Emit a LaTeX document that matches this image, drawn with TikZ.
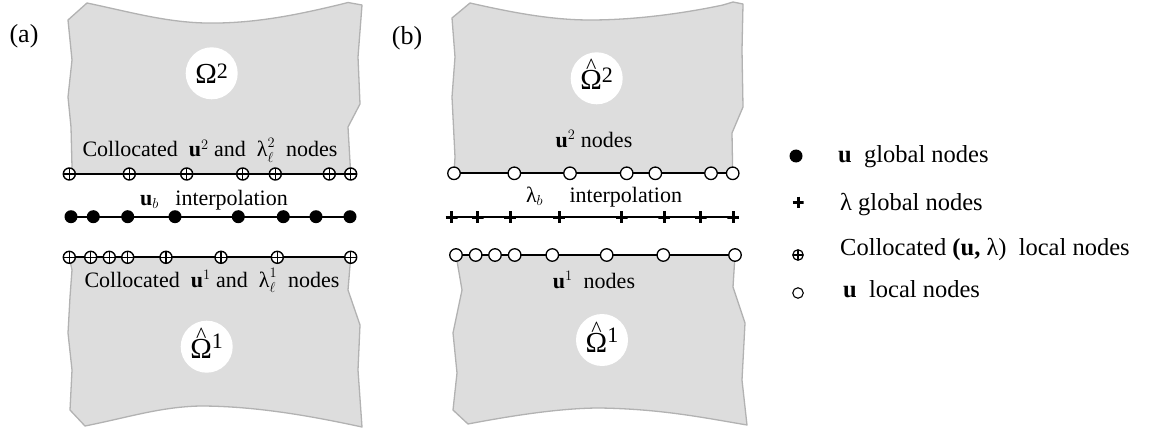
\documentclass[tikz,border=0pt]{standalone}
\usepackage{fontspec}
\setmainfont{Liberation Serif}
\pgfdeclarelayer{bgzero}
\pgfdeclarelayer{bgone}
\pgfsetlayers{bgzero,bgone,main}
\definecolor{domfill}{RGB}{221,221,221}
\definecolor{domline}{RGB}{178,178,178}
\newcommand{\OmBig}{{\fontsize{29}{30}\selectfont Ω}}
\newcommand{\OmHat}{\ooalign{\OmBig\cr\hidewidth\raisebox{16pt}{\textasciicircum}\hidewidth\cr}}
\tikzset{
  every node/.style={font=\fontsize{22}{26}\selectfont, inner sep=0pt},
  gnode/.style={circle, fill=black, minimum size=13pt},
  lnode/.style={circle, draw=black, line width=1.3pt, fill=white, minimum size=12.5pt},
  cnode/.style={circle, draw=black, line width=1.4pt, fill=white, minimum size=12pt,
    path picture={\draw[line width=1.4pt] (path picture bounding box.north) -- (path picture bounding box.south)
      (path picture bounding box.west) -- (path picture bounding box.east);}},
  pnode/.style={rectangle, minimum size=12pt,
    path picture={\draw[line width=3pt] (path picture bounding box.north) -- (path picture bounding box.south)
      (path picture bounding box.west) -- (path picture bounding box.east);}},
  wire/.style={draw=black, line width=2pt},
  dom/.style={fill=domfill, draw=domline, line width=1.3pt, line join=round},
  hole/.style={circle, fill=white, minimum size=52pt},
  panel/.style={font=\fontsize{26}{28}\selectfont},
  legtext/.style={anchor=base west, font=\fontsize{24.5}{28}\selectfont}
}
\begin{document}
\begin{tikzpicture}[x=1pt,y=-1pt]
\useasboundingbox (0,0) rectangle (1167,433);

% ---------- panel (a) ----------
\foreach \x [count=\i] in {69.3,129.3,186.7,242.7,275.3,329.3,350.7}
  \node[cnode] (a2-\i) at (\x,174) {};
\foreach \x [count=\i] in {71,93.3,127.7,175,238.3,283.3,316,350}
  \node[gnode] (ag-\i) at (\x,216.7) {};
\foreach \x [count=\i] in {69.3,90.7,109.3,127.7,166,221,277.3,350.7}
  \node[cnode] (a1-\i) at (\x,257.3) {};

% ---------- panel (b) ----------
\foreach \x [count=\i] in {454,514.3,570,626.7,655.3,711,732.7}
  \node[lnode] (b2-\i) at (\x,173.3) {};
\foreach \x [count=\i] in {451.7,477.7,510,559,621.7,664.3,700.7,733.3}
  \node[pnode] (bg-\i) at (\x,217.3) {};
\foreach \x [count=\i] in {456,475.7,495,514.7,552.3,606.7,663.3,735}
  \node[lnode] (b1-\i) at (\x,255) {};

\begin{pgfonlayer}{bgone}
  \draw[wire] (a2-1.center) -- (a2-7.center);
  \draw[wire] (ag-1.center) -- (ag-8.center);
  \draw[wire] (a1-1.center) -- (a1-8.center);
  \draw[wire] (b2-1.center) -- (b2-7.center);
  \draw[wire] (bg-1.center) -- (bg-8.center);
  \draw[wire] (b1-1.center) -- (b1-8.center);
\end{pgfonlayer}

\begin{pgfonlayer}{bgzero}
  \path[dom] (a2-1.center) -- (72,167) -- (71,127) -- (68,97) -- (72,60) -- (68,20) -- (87,3)
    .. controls (130,12) and (165,22) .. (205,23) .. controls (255,24) and (300,14) .. (338,5)
    -- (348,2.5) -- (362,5) -- (358,57) -- (360,104) -- (348,127) -- (a2-7.center) -- cycle;
  \path[dom] (a1-1.center) -- (72,270) -- (70,297) -- (68,333) -- (72,370) -- (70,410) -- (85,426)
    .. controls (130,417) and (160,407) .. (200,406) .. controls (260,406) and (320,418) .. (362,427)
    -- (358,370) -- (360,325) -- (348,290) -- (a1-8.center) -- cycle;
  \path[dom] (b2-1.center) -- (455,157) -- (452,97) -- (455,57) -- (452,18) -- (470,3)
    .. controls (510,12) and (550,20) .. (590,20) .. controls (640,20) and (690,12) .. (723,5)
    -- (733,2) -- (743,4) -- (742,50) -- (743,107) -- (732,133) -- (b2-7.center) -- cycle;
  \path[dom] (b1-1.center) -- (462,290) -- (453,333) -- (457,373) -- (453,410) -- (468,424)
    .. controls (510,416) and (560,408) .. (600,408) .. controls (660,409) and (700,417) .. (747,425)
    -- (742,380) -- (745,323) -- (733,287) -- (b1-8.center) -- cycle;
\end{pgfonlayer}

% domain labels
\node[hole] (om2a) at (211.7,73.3) {\OmBig\raisebox{5pt}{2}};
\node[hole] (om1a) at (206.7,346.7) {\OmHat\raisebox{10pt}{1}};
\node[hole] (om2b) at (596.7,78.3) {\OmHat\raisebox{7pt}{2}};
\node[hole] (om1b) at (602,340) {\OmHat\raisebox{10pt}{1}};

% texts
\node[panel, anchor=base] (pa) at (24,43) {(a)};
\node[panel, anchor=base] (pb) at (407,45) {(b)};
\node[anchor=base] (ta2) at (210,157) {Collocated \ \textbf{u}$^{2}$ and \ $\mbox{λ}_{\ell}^{2}$ \ nodes};
\node[anchor=base] (tag) at (214,205) {$\mbox{\textbf{u}}_{b}$\hspace{0.75em}interpolation};
\node[anchor=base] (ta1) at (212,287) {Collocated \ \textbf{u}$^{1}$ and \ $\mbox{λ}_{\ell}^{1}$ \ nodes};
\node[anchor=base] (tb2) at (594,147) {\textbf{u}$^{2}$ nodes};
\node[anchor=base] (tbg) at (604,202) {$\mbox{λ}_{b}$\hspace{1.2em}interpolation};
\node[anchor=base] (tb1) at (594,288) {\textbf{u}$^{1}$ \ nodes};

% legend
\node[gnode] (lg1) at (796,156) {};
\node[pnode, minimum size=11pt] (lg2) at (798,202) {};
\node[cnode, minimum size=10.5pt, line width=1.2pt] (lg3) at (798,255) {};
\node[lnode, minimum size=10.5pt, line width=1.1pt] (lg4) at (798,293) {};
\node[legtext] (lt1) at (838,163) {\textbf{u} \ global nodes};
\node[legtext] (lt2) at (840,210) {λ global nodes};
\node[legtext] (lt3) at (840,255) {Collocated \textbf{(u,} λ) \ local nodes};
\node[legtext] (lt4) at (843,297) {\textbf{u} \ local nodes};
\end{tikzpicture}
\end{document}
